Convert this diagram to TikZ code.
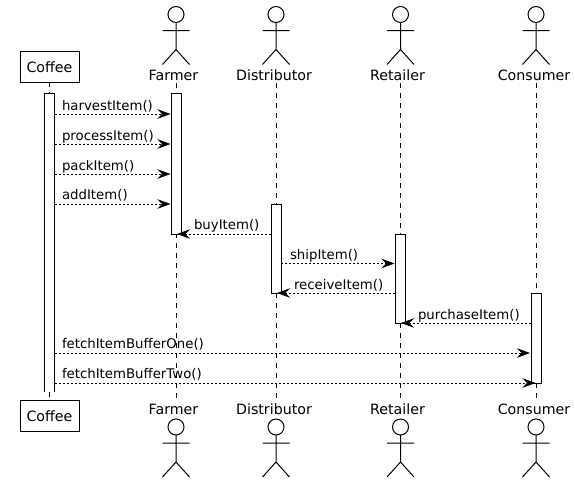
\documentclass[tikz,border=0pt]{standalone}
\usepackage{fontspec}
\setmainfont{DejaVu Sans}
\usetikzlibrary{arrows.meta}
\begin{document}
\begin{tikzpicture}[x=1pt,y=1pt,font=\fontsize{13.3}{15}\selectfont,
  every node/.style={inner sep=0pt, outer sep=0pt},
  box/.style={draw, line width=1pt, fill=white, font=\fontsize{14.2}{16}\selectfont, minimum width=59pt, minimum height=30.5pt},
  who/.style={font=\fontsize{14.2}{16}\selectfont, minimum height=16pt},
  bar/.style={draw, line width=1pt, fill=white, minimum width=10pt},
  msgtext/.style={anchor=base west},
  life/.style={line width=1pt, dash pattern=on 5pt off 5pt},
  msg/.style={line width=0.8pt, dash pattern=on 2pt off 2pt, -{Stealth[length=13pt,width=9.5pt,inset=4.5pt]}},
  pics/actor/.style={code={
    \draw[line width=1pt] (0,0) circle (8);
    \draw[line width=1pt] (0,-8) -- (0,-35) (-13.5,-16) -- (13.5,-16) (-13.5,-50) -- (0,-35) -- (13.5,-50);
  }}]
\useasboundingbox[fill=white] (0,0) rectangle (575,-482);
% participants, top row
\node[box] (coffeetop) at (49.5,-66.75) {Coffee};
\node[who] (farmertop) at (173.5,-75) {Farmer};
\node[who] (distributortop) at (274,-75) {Distributor};
\node[who] (retailertop) at (397.5,-75) {Retailer};
\node[who] (consumertop) at (534,-75) {Consumer};
\pic at (176,-14.5) {actor};
\pic at (276,-14.5) {actor};
\pic at (400.5,-14.5) {actor};
\pic at (536,-14.5) {actor};
% participants, bottom row
\node[box] (coffeebot) at (49.5,-415.75) {Coffee};
\node[who] (farmerbot) at (173.5,-409) {Farmer};
\node[who] (distributorbot) at (274,-409) {Distributor};
\node[who] (retailerbot) at (397.5,-409) {Retailer};
\node[who] (consumerbot) at (534,-409) {Consumer};
\pic at (176,-427) {actor};
\pic at (276,-427) {actor};
\pic at (400.5,-427) {actor};
\pic at (536,-427) {actor};
% lifelines
\draw[life] (coffeetop.south) -- (coffeebot.north);
\draw[life] ([xshift=2.5pt]farmertop.south) -- ([xshift=2.5pt]farmerbot.north);
\draw[life] ([xshift=2pt]distributortop.south) -- ([xshift=2pt]distributorbot.north);
\draw[life] ([xshift=3pt]retailertop.south) -- ([xshift=3pt]retailerbot.north);
\draw[life] ([xshift=2pt]consumertop.south) -- ([xshift=2pt]consumerbot.north);
% activation bars
\node[bar, draw=none, minimum height=299pt] (coffeebar) at (49.5,-242.5) {};
\draw[line width=1pt] (coffeebar.south west) -- (coffeebar.north west) -- (coffeebar.north east) -- (coffeebar.south east);
\node[bar, minimum height=141pt] (farmerbar) at (176.5,-163.5) {};
\node[bar, minimum height=89pt] (distributorbar) at (276,-248.5) {};
\node[bar, minimum height=89pt] (retailerbar) at (400,-278.5) {};
\node[bar, minimum height=90pt] (consumerbar) at (536,-338) {};
% messages
\coordinate (harvestfrom) at (54.5,-114);
\coordinate (harvestto) at (170.5,-114);
\coordinate (processfrom) at (54.5,-144);
\coordinate (processto) at (170.5,-144);
\coordinate (packfrom) at (54.5,-174);
\coordinate (packto) at (170.5,-174);
\coordinate (addfrom) at (54.5,-204);
\coordinate (addto) at (170.5,-204);
\coordinate (buyfrom) at (271,-234);
\coordinate (buyto) at (177,-234);
\coordinate (shipfrom) at (281,-263.5);
\coordinate (shipto) at (394.5,-263.5);
\coordinate (receivefrom) at (395,-293);
\coordinate (receiveto) at (277,-293);
\coordinate (purchasefrom) at (531,-323);
\coordinate (purchaseto) at (401,-323);
\coordinate (fetchonefrom) at (54.5,-353);
\coordinate (fetchoneto) at (530,-353);
\coordinate (fetchtwofrom) at (54.5,-383);
\coordinate (fetchtwoto) at (535.5,-383);
\draw[msg] (harvestfrom) -- (harvestto);
\draw[msg] (processfrom) -- (processto);
\draw[msg] (packfrom) -- (packto);
\draw[msg] (addfrom) -- (addto);
\draw[msg] (buyfrom) -- (buyto);
\draw[msg] (shipfrom) -- (shipto);
\draw[msg] (receivefrom) -- (receiveto);
\draw[msg] (purchasefrom) -- (purchaseto);
\draw[msg] (fetchonefrom) -- (fetchoneto);
\draw[msg] (fetchtwofrom) -- (fetchtwoto);
\node[msgtext] (harvestlabel) at (62,-110) {harvestItem()};
\node[msgtext] (processlabel) at (62,-140) {processItem()};
\node[msgtext] (packlabel) at (62,-170) {packItem()};
\node[msgtext] (addlabel) at (62,-199) {addItem()};
\node[msgtext] (buylabel) at (194,-229) {buyItem()};
\node[msgtext] (shiplabel) at (290,-259) {shipItem()};
\node[msgtext] (receivelabel) at (294,-289) {receiveItem()};
\node[msgtext] (purchaselabel) at (418,-319) {purchaseItem()};
\node[msgtext] (fetchonelabel) at (62,-348) {fetchItemBufferOne()};
\node[msgtext] (fetchtwolabel) at (62,-378) {fetchItemBufferTwo()};
\end{tikzpicture}
\end{document}
